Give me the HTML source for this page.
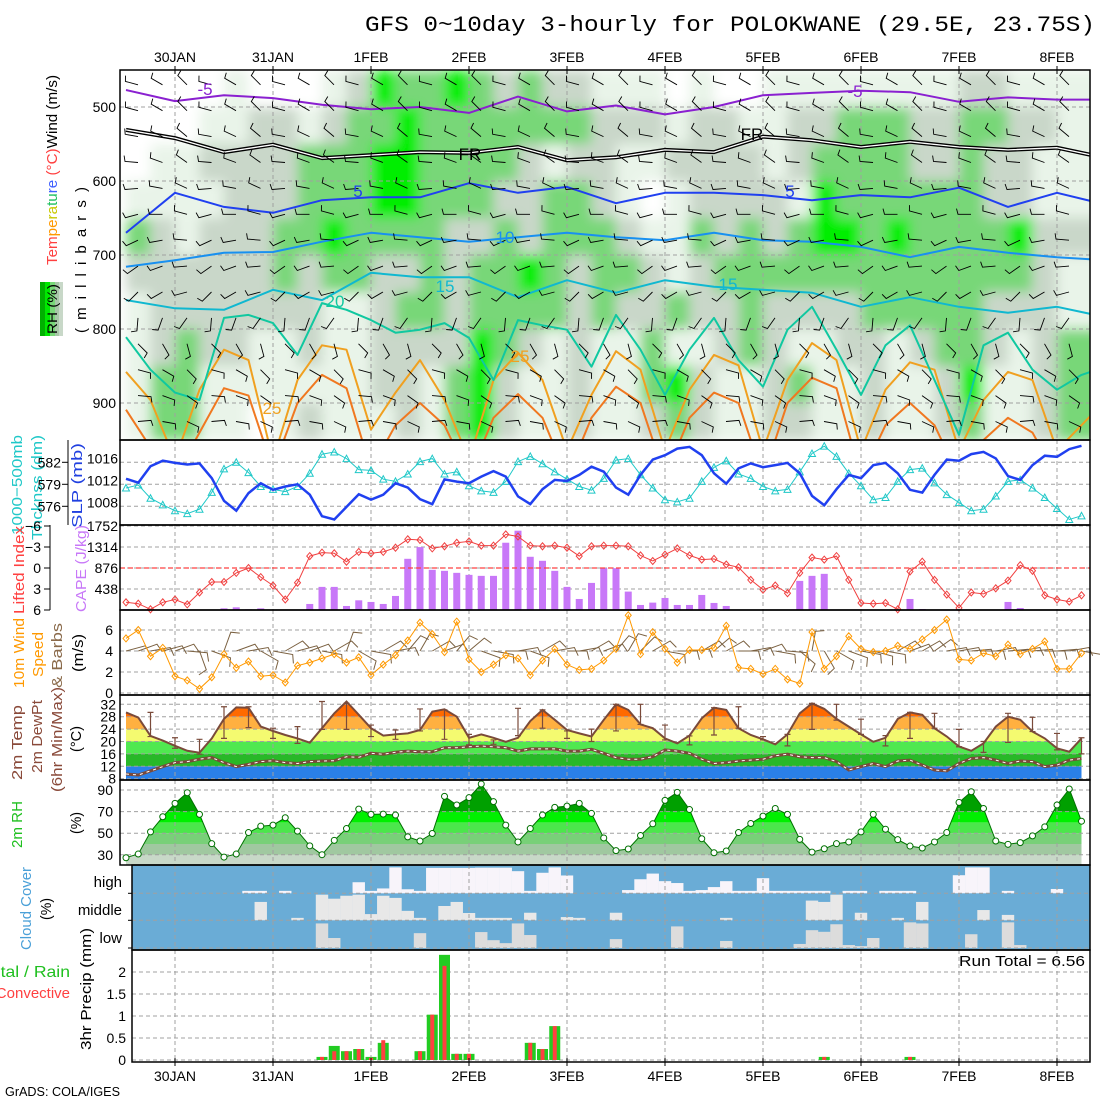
<!DOCTYPE html>
<html><head><meta charset="utf-8"><title>GFS meteogram POLOKWANE</title>
<style>
html,body{margin:0;padding:0;background:#fff;}
svg{display:block;font-family:"Liberation Sans",sans-serif;}
</style></head>
<body>
<svg id="chart" width="1100" height="1100" viewBox="0 0 1100 1100" xmlns="http://www.w3.org/2000/svg">
<defs>
  <clipPath id="clipP1"><rect x="120" y="70" width="970" height="370"/></clipPath>
  <clipPath id="clipP2"><rect x="120" y="440" width="970" height="85"/></clipPath>
  <clipPath id="clipP5"><rect x="120" y="695" width="970" height="85"/></clipPath>
  <clipPath id="clipP6"><rect x="120" y="780" width="970" height="85"/></clipPath>
  <clipPath id="clipP7"><rect x="132" y="865" width="958" height="85"/></clipPath>
  <filter id="soft" x="-5%" y="-5%" width="110%" height="110%"><feGaussianBlur stdDeviation="6"/></filter>
</defs>

<text x="365" y="31" font-family="Liberation Mono, monospace" font-size="22" textLength="730" lengthAdjust="spacingAndGlyphs">GFS 0~10day 3-hourly for POLOKWANE (29.5E, 23.75S)</text>

<text transform="translate(57,265) rotate(-90)" font-size="15" textLength="190" lengthAdjust="spacingAndGlyphs"><tspan fill="#ff4040">Tem</tspan><tspan fill="#ff9900">pe</tspan><tspan fill="#c8c800">ra</tspan><tspan fill="#20c060">tu</tspan><tspan fill="#4060ff">re</tspan><tspan fill="#ff4040"> (°C)</tspan><tspan fill="#000">Wind (m/s)</tspan></text>
<text transform="translate(86,333) rotate(-90)" font-size="15" textLength="146" lengthAdjust="spacing">(millibars)</text>
<g>
  <rect x="40" y="282" width="5" height="54" fill="#00b000"/>
  <rect x="45" y="282" width="5" height="54" fill="#00e800"/>
  <rect x="50" y="282" width="5" height="54" fill="#78d878"/>
  <rect x="55" y="282" width="4" height="54" fill="#a8c8a8"/>
  <rect x="59" y="282" width="4" height="54" fill="#c8d8c8"/>
  <text transform="translate(57,334) rotate(-90)" font-size="14" textLength="50" lengthAdjust="spacingAndGlyphs">RH (%)</text>
</g>
<text transform="translate(22,535) rotate(-90)" font-size="15" fill="#20c8c8" textLength="100" lengthAdjust="spacingAndGlyphs">1000−500mb</text>
<text transform="translate(42,540) rotate(-90)" font-size="15" fill="#20c8c8" textLength="105" lengthAdjust="spacingAndGlyphs">Thcknss (dm)</text>
<text transform="translate(82,528) rotate(-90)" font-size="15" fill="#2040e0" textLength="85" lengthAdjust="spacingAndGlyphs">SLP (mb)</text>
<text transform="translate(24,614) rotate(-90)" font-size="15" fill="#ff4040" textLength="88" lengthAdjust="spacingAndGlyphs">Lifted Index</text>
<text transform="translate(86,612) rotate(-90)" font-size="15" fill="#c878f8" textLength="87" lengthAdjust="spacingAndGlyphs">CAPE (J/kg)</text>
<text transform="translate(24,688) rotate(-90)" font-size="15" fill="#ff9900" textLength="70" lengthAdjust="spacingAndGlyphs">10m Wind</text>
<text transform="translate(43,677) rotate(-90)" font-size="15" fill="#ff9900" textLength="45" lengthAdjust="spacingAndGlyphs">Speed</text>
<text transform="translate(62,688) rotate(-90)" font-size="15" fill="#8a6a4a" textLength="65" lengthAdjust="spacingAndGlyphs">&amp; Barbs</text>
<text transform="translate(83,672) rotate(-90)" font-size="15" textLength="38" lengthAdjust="spacingAndGlyphs">(m/s)</text>
<text transform="translate(22,780) rotate(-90)" font-size="15" fill="#8a4a3a" textLength="75" lengthAdjust="spacingAndGlyphs">2m Temp</text>
<text transform="translate(42,773) rotate(-90)" font-size="15" fill="#8a4a3a" textLength="73" lengthAdjust="spacingAndGlyphs">2m DewPt</text>
<text transform="translate(62,792) rotate(-90)" font-size="15" fill="#8a4a3a" textLength="105" lengthAdjust="spacingAndGlyphs">(6hr Min/Max)</text>
<text transform="translate(81,752) rotate(-90)" font-size="15" textLength="26" lengthAdjust="spacingAndGlyphs">(°C)</text>
<text transform="translate(22,848) rotate(-90)" font-size="15" fill="#20c020" textLength="47" lengthAdjust="spacingAndGlyphs">2m RH</text>
<text transform="translate(81,834) rotate(-90)" font-size="15" textLength="22" lengthAdjust="spacingAndGlyphs">(%)</text>
<text transform="translate(31,950) rotate(-90)" font-size="15" fill="#4aa0d8" textLength="83" lengthAdjust="spacingAndGlyphs">Cloud Cover</text>
<text transform="translate(51,920) rotate(-90)" font-size="15" textLength="22" lengthAdjust="spacingAndGlyphs">(%)</text>
<text x="122" y="887" font-size="15" text-anchor="end">high</text>
<text x="122" y="915" font-size="15" text-anchor="end">middle</text>
<text x="122" y="943" font-size="15" text-anchor="end">low</text>
<text x="-18" y="977" font-size="16" fill="#20c020" textLength="88" lengthAdjust="spacingAndGlyphs">Total / Rain</text>
<text x="70" y="998" font-size="15" fill="#ff4040" text-anchor="end">Convective</text>
<text transform="translate(91,1050) rotate(-90)" font-size="15" textLength="122" lengthAdjust="spacingAndGlyphs">3hr Precip (mm)</text>
<text x="959" y="966" font-size="15" textLength="126" lengthAdjust="spacingAndGlyphs">Run Total = 6.56</text>
<text x="5" y="1096" font-size="13" textLength="115" lengthAdjust="spacingAndGlyphs">GrADS: COLA/IGES</text>

<g id="layer"></g>
</svg>
<script>
const dayLabels=['30JAN','31JAN','1FEB','2FEB','3FEB','4FEB','5FEB','6FEB','7FEB','8FEB'];
const pressTicks=[500,600,700,800,900];
const slpTicks=[1016,1012,1008];
const thickTicks=[582,579,576];
const capeTicks=[1752,1314,876,438];
const liTicks=[-6,-3,0,3,6];
const wsTicks=[6,4,2,0];
const tTicks=[32,28,24,20,16,12,8];
const rhTicks=[90,70,50,30];
const prTicks=[2,1.5,1,0.5,0];
const prTickText=['2','1.5','1','0.5','0'];

const slp=[1013.0,1012.3,1015.3,1016.3,1015.9,1015.6,1015.8,1013.1,1009.0,1007.2,1010.4,1012.2,1011.0,1011.6,1012.0,1010.1,1006.2,1005.6,1007.9,1010.2,1009.2,1010.1,1012.2,1011.4,1009.3,1008.4,1012.9,1012.5,1012.2,1013.4,1014.4,1013.4,1009.8,1008.4,1011.1,1012.8,1012.6,1013.7,1015.2,1014.3,1011.4,1010.1,1013.7,1016.5,1017.3,1018.5,1018.8,1017.3,1014.0,1012.1,1014.9,1015.8,1015.1,1015.5,1015.9,1014.0,1009.9,1008.2,1011.1,1013.7,1013.1,1015.5,1015.9,1014.0,1011.0,1010.5,1013.7,1016.5,1016.3,1017.5,1017.9,1016.7,1013.5,1012.8,1015.5,1017.2,1017.0,1018.4,1019.0];
const thick=[578.5,578.9,577.1,576.2,575.4,575.0,575.6,577.9,581.1,582.0,580.6,578.7,578.3,578.0,578.7,580.5,583.1,583.4,582.5,581.0,580.9,579.7,579.4,580.4,582.1,582.5,580.4,580.7,578.8,578.1,577.9,579.4,582.1,582.8,581.8,580.7,579.7,578.7,578.2,579.8,582.3,582.5,580.3,578.5,576.9,576.6,577.1,579.4,581.3,582.2,580.4,579.8,578.7,578.1,578.3,580.7,583.2,584.2,582.8,580.5,578.8,576.9,577.2,579.4,581.0,581.2,579.2,577.6,576.5,575.4,575.6,577.4,579.4,579.6,578.5,577.2,575.7,574.2,574.7];
const li=[4.9,5.1,5.9,4.9,4.5,5.2,3.5,2.0,2.0,0.7,0.0,1.3,2.5,4.5,2.1,-1.7,-2.2,-2.1,-0.9,-2.3,-2.1,-2.3,-2.9,-4.1,-4.0,-2.8,-3.1,-3.6,-3.8,-3.2,-3.2,-4.8,-4.5,-3.2,-3.1,-3.2,-2.9,-1.7,-3.1,-3.2,-3.2,-3.1,-1.8,-1.0,-1.9,-2.8,-1.8,-1.2,-1.3,-0.5,-0.1,1.7,3.1,2.5,3.6,0.7,-1.5,-1.2,-1.7,1.7,5.0,5.1,5.0,5.9,0.5,-0.9,1.7,3.8,5.7,3.5,3.7,2.9,1.8,-0.4,0.4,3.9,4.5,4.8,3.9];
const cape=[21,0,0,0,0,0,0,0,35,56,14,35,0,0,0,126,482,482,84,202,168,126,293,1068,1312,838,817,775,733,712,712,1403,1654,1110,1026,817,482,230,565,872,872,384,105,154,251,105,105,314,147,84,0,0,0,0,0,607,712,754,0,0,0,0,0,0,230,21,0,0,0,0,0,0,168,42,0,0,0,0,0];
const wspd=[5.2,6.0,3.5,4.3,1.6,1.2,0.4,1.5,3.7,2.4,3.0,1.6,1.7,1.0,2.6,2.9,3.3,3.7,2.9,3.4,1.7,2.7,3.6,5.0,6.7,5.6,3.9,6.8,3.2,2.0,2.7,3.6,3.3,1.7,3.1,4.2,2.7,2.2,2.3,3.1,4.2,7.4,3.7,5.8,4.2,2.9,4.1,4.1,4.3,6.4,2.4,2.3,1.8,2.3,1.3,0.9,5.8,2.3,3.5,5.4,4.2,3.9,4.0,4.5,4.2,5.1,6.0,7.0,3.2,3.1,3.8,3.5,4.6,3.7,4.2,4.9,2.3,2.3,3.8];
const wdir=[75,70,80,75,70,95,160,110,20,70,80,120,100,60,75,70,100,60,20,120,100,60,80,40,30,60,70,40,50,110,100,90,80,110,60,80,90,80,60,70,40,30,45,60,100,90,85,60,50,60,90,80,70,100,95,130,10,150,120,110,100,105,100,60,70,60,55,80,80,85,90,80,85,80,85,90,85,80,100];
const t2m=[29.4,27.7,21.8,20.3,18.6,17.0,16.4,21.0,27.3,31.0,30.9,24.8,23.4,22.1,21.0,19.6,24.3,29.1,32.9,28.6,24.3,21.9,22.3,22.6,23.7,29.6,30.4,28.0,21.2,22.3,21.2,19.9,21.2,26.6,30.2,27.0,23.7,22.6,21.6,27.0,32.0,30.2,25.5,24.3,21.0,19.4,21.9,27.5,30.9,30.2,24.3,22.1,20.7,19.1,22.3,29.1,32.3,30.5,27.3,24.8,22.3,19.9,21.2,27.3,29.4,28.6,24.3,21.6,18.4,17.0,19.4,24.8,28.0,27.0,23.2,21.0,17.8,16.7,21.0];
const td2m=[9.5,9.2,10.5,11.9,13.2,13.5,14.3,14.8,13.2,11.9,12.6,13.5,13.8,13.2,12.9,13.5,13.7,13.8,15.1,14.9,16.2,15.9,16.5,16.9,16.7,16.7,18.0,18.0,18.3,18.5,18.3,18.0,16.9,17.6,17.6,17.6,16.9,16.9,17.5,16.2,14.8,14.3,14.3,15.1,17.3,16.9,16.2,14.3,12.9,13.2,13.7,14.0,14.3,15.4,15.9,15.1,14.8,14.8,13.5,10.8,11.9,12.9,11.9,13.7,14.0,12.4,10.8,10.5,12.9,14.5,14.8,14.0,12.9,13.7,13.5,11.9,12.4,14.0,14.5];
const tmax6=[29.4,21.2,20.7,31.2,31.2,24.3,24.8,32.9,32.3,25.3,23.7,30.5,30.2,22.3,20.5,30.7,30.2,23.4,24.0,32.0,32.0,25.3,21.8,30.9,31.2,21.6,22.3,32.3,32.0,27.2,21.9,29.4,29.1,23.9,20.0,29.1,27.8,22.6,21.2];
const tmin6=[21.6,17.8,15.9,21.0,24.5,21.0,19.4,23.9,23.9,21.6,20.7,23.4,20.7,18.9,19.1,21.9,24.3,21.0,20.0,23.4,25.5,20.5,18.9,22.1,24.3,20.5,18.6,23.9,26.9,22.3,18.6,21.0,24.3,18.3,16.5,19.7,23.2,17.3,16.0];
const rh2m=[27.3,30.7,51.2,65.2,77.6,87.5,67.4,40.3,27.9,30.7,50.6,56.5,57.5,64.3,51.9,38.3,30.1,43.4,54.3,72.3,67.4,67.7,66.8,46.6,42.8,49.7,84.1,76.1,82.9,95.6,79.2,57.5,41.9,54.3,66.8,73.9,75.1,77.6,68.3,45.6,33.9,35.4,47.9,58.7,80.4,87.8,71.9,44.9,31.9,33.5,50.6,59.0,65.8,72.9,67.4,44.3,32.5,35.6,40.3,41.9,51.2,67.4,53.7,44.0,38.1,36.3,41.9,50.6,78.5,88.4,72.9,42.8,39.7,41.3,47.5,55.9,76.1,90.9,61.1];
const cloudHigh=[0,0,0,0,0,0,0,0,0,0,9,9,0,9,0,0,0,0,0,41,9,18,96,15,9,94,94,94,94,95,95,95,82,9,76,96,66,0,0,0,0,12,52,73,45,38,9,12,23,45,9,9,56,9,9,9,9,9,0,9,9,0,9,9,9,0,0,0,67,96,96,0,9,0,0,0,16,0,0];
const cloudMid=[0,0,0,0,0,0,0,0,0,0,0,68,0,0,9,0,95,80,91,95,23,91,83,35,9,0,53,68,27,9,9,9,0,28,0,0,12,9,0,0,28,0,0,0,0,0,0,0,0,9,0,0,0,0,0,0,73,68,95,0,28,0,0,9,0,68,0,0,0,0,38,0,20,0,0,0,0,0,0];
const cloudLow=[0,0,0,0,0,0,0,0,0,0,0,0,0,0,0,0,91,37,0,0,0,0,0,0,55,0,0,0,0,59,29,18,91,48,0,0,0,0,0,0,33,0,0,0,0,80,0,0,0,26,0,0,0,0,0,15,66,60,88,11,7,37,0,0,95,91,0,0,0,51,0,0,95,11,0,0,0,0,0];
const precipTotal=[0,0,0,0,0,0,0,0,0,0,0,0,0,0,0,0,0.07,0.32,0.20,0.25,0.07,0.39,0,0,0.20,1.03,2.39,0.14,0.14,0,0,0,0,0.39,0.25,0.77,0,0,0,0,0,0,0,0,0,0,0,0,0,0,0,0,0,0,0,0,0,0.07,0,0,0,0,0,0,0.07,0,0,0,0,0,0,0,0,0,0,0,0,0,0];
const precipConv=[0,0,0,0,0,0,0,0,0,0,0,0,0,0,0,0,0.07,0.20,0.20,0.25,0.05,0.45,0,0,0.20,1.03,2.14,0.14,0.14,0,0,0,0,0.39,0.25,0.77,0,0,0,0,0,0,0,0,0,0,0,0,0,0,0,0,0,0,0,0,0,0.07,0,0,0,0,0,0,0.07,0,0,0,0,0,0,0,0,0,0,0,0,0,0];
const rhLevels=[450,500,550,600,650,700,750,800,850,900];
const rhRows=[
"0000100012433432322111010011111111221111",
"0001122123343333333222122112233322332211",
"0112222333443333212211222212333322322111",
"1111222333443332233210122221433333322111",
"3212223343333223233321132323443433334222",
"2222223233223233432332123333333333333211",
"1222222211233233332322322322223333322211",
"1232211211222243212113112321122123321233",
"1331111111221342112113421123112112411233",
"1331101211121342112112321122112112311233"];
const isoM5=[477,492,484,488,497,503,500,508,486,506,498,510,500,484,481,478,480,493,487,490,490];
const isoFR=[531,542,561,551,569,565,561,562,554,572,568,558,561,540,545,554,547,554,558,555,569];
const iso5=[670,616,635,643,626,622,622,603,616,608,630,616,616,619,626,619,622,609,635,616,632];
const iso10=[716,707,697,696,682,670,676,682,676,670,676,680,670,680,682,689,703,689,697,703,707];
const iso15=[761,772,774,747,761,724,730,730,757,734,751,734,743,747,751,770,757,770,778,770,784];
const iso20=[811,855,886,896,785,781,792,835,765,774,788,805,801,792,812,869,788,795,801,851,781,828,889,828,785,842,878,801,770,828,889,822,795,869,943,822,805,855,882,862,851];
const iso25=[858,896,977,882,828,842,977,869,822,828,936,886,842,896,977,869,832,869,964,889,830,855,964,882,835,849,964,869,819,842,964,882,845,855,964,896,858,869,964,930,896];
const iso30=[909,960,1000,940,880,890,990,900,862,880,990,930,900,930,1000,920,888,920,1000,920,878,900,1000,920,886,900,1000,900,866,880,1000,930,900,930,1000,950,920,940,1000,990,960];
const barbLevels=[470,505,540,575,610,645,680,715,750,785,820,855,890,925];
const barbLevelDirs=[300,300,295,290,280,270,260,250,240,200,150,120,110,100];

const NS='http://www.w3.org/2000/svg';
const root=document.getElementById('layer');
function mk(tag,attrs,parent){const e=document.createElementNS(NS,tag);for(const k in attrs)e.setAttribute(k,attrs[k]);(parent||root).appendChild(e);return e;}
const X=i=>126+12.25*i;
const Yp=p=>70+(p-450)*0.74;
const Yslp=v=>462.3-(v-1016)*5.5;
const Ythk=v=>462.3-(v-582)*22/3;
const Ycape=v=>610-v*84/1752;
const Yli=v=>568+v*7;
const Yws=v=>693-v*10.5;
const Yt=v=>704.3+(32-v)*3.1;
const Yrh=v=>790+(90-v)*1.08;
const Ypr=v=>1060-v*44;
const dayX=k=>X(4+8*k);
const GRID='#a0a0a0';
function pts(arr,fx,fy){return arr.map((v,i)=>fx(i).toFixed(1)+','+fy(v).toFixed(1)).join(' ');}
function group(name,attrs){const g=mk('g',attrs||{});


return g;}
function hgrid(g,ys,x0,x1){ys.forEach(y=>{const l=mk('line',{x1:x0,x2:x1,y1:y,y2:y,stroke:GRID,'stroke-dasharray':'4,3'},g);

});}
function vgrid(g,y0,y1){for(let k=0;k<dayLabels.length;k++){const l=mk('line',{x1:dayX(k),x2:dayX(k),y1:y0,y2:y1,stroke:GRID,'stroke-dasharray':'4,3'},g);

}}
function label(g,txt,x,y,name,anchor){const t=mk('text',{x:x,y:y,'font-size':14,'text-anchor':anchor||'end'},g);t.textContent=txt;


return t;}
function barb(g,x,y,dir,L,color,w){const a=dir*Math.PI/180;const ex=x+Math.sin(a)*L,ey=y-Math.cos(a)*L;const fa=a+Math.PI*0.42;const fx=ex+Math.sin(fa)*L*0.45,fy=ey-Math.cos(fa)*L*0.45;
const p=mk('path',{d:`M${x.toFixed(1)},${y.toFixed(1)}L${ex.toFixed(1)},${ey.toFixed(1)}L${fx.toFixed(1)},${fy.toFixed(1)}`,stroke:color,'stroke-width':w,fill:'none'},g);

}

// panel 1
const p1=group('cross-section-panel',{'clip-path':'url(#clipP1)'});
const rhCol=['#ffffff','#e9f4e9','#c9d7c9','#78d778','#00ee00'];
const rhG=group('rh-field',{filter:'url(#soft)'});p1.appendChild(rhG);
rhRows.forEach((row,r)=>{for(let c=0;c<row.length;c++){const rc=mk('rect',{x:126+24.5*c,y:Yp(rhLevels[r]),width:25,height:37.5,fill:rhCol[+row[c]]},rhG);

}});
hgrid(p1,pressTicks.map(Yp),120,1090);vgrid(p1,70,440);
function iso(arr,step,color,w,name){const pl=mk('polyline',{points:pts(arr,i=>126+step*i,Yp),fill:'none',stroke:color,'stroke-width':w,'stroke-linejoin':'round'},p1);

}
iso(iso30,24.5,'#f07820',2,'isotherm-30');
iso(iso25,24.5,'#f0a020',2,'isotherm-25');
iso(iso20,24.5,'#10c8a0',2,'isotherm-20');
iso(iso15,49,'#10b8d0',2,'isotherm-15');
iso(iso10,49,'#1890f0',2,'isotherm-10');
iso(iso5,49,'#2040f0',2,'isotherm-5');
iso(isoFR,49,'#000',4,'freezing-level');
iso(isoFR,49,'#fff',1.3,'freezing-level-inner');
iso(isoM5,49,'#8a20d0',2,'isotherm-minus5');
const bG=group('cross-section-barbs');p1.appendChild(bG);
barbLevels.forEach((p,r)=>{for(let k=0;k<39;k++){barb(bG,138+24.5*k,Yp(p),barbLevelDirs[r]+((k%3)-1)*15,13,'#000',0.9);}});
[['-5',205,95,'#8a20d0'],['-5',855,97,'#8a20d0'],['FR',470,160,'#000'],['FR',752,140,'#000'],['5',358,197,'#2040f0'],['5',790,197,'#2040f0'],['10',505,243,'#1890f0'],['15',445,292,'#10b8d0'],['15',728,290,'#10b8d0'],['20',335,307,'#10c8a0'],['25',272,414,'#f0a020'],['25',520,362,'#f0a020']].forEach(d=>{
const t=mk('text',{x:d[1],y:d[2],'font-size':17,fill:d[3],'text-anchor':'middle'},p1);t.textContent=d[0];

});
pressTicks.forEach(p=>label(root,String(p),116,Yp(p)+5,'pressure-tick'));

// panel 2
const p2=group('slp-thickness-panel',{'clip-path':'url(#clipP2)'});
hgrid(p2,slpTicks.map(Yslp),120,1090);vgrid(p2,440,525);
const thL=mk('polyline',{points:pts(thick,X,Ythk),fill:'none',stroke:'#20c8c8','stroke-width':1},p2);


thick.forEach((v,i)=>{const x=X(i),y=Ythk(v);const m=mk('path',{d:`M${x-3.5},${y+3}L${x+3.5},${y+3}L${x},${y-3.5}Z`,fill:'none',stroke:'#20c8c8','stroke-width':1},p2);

});
const slpL=mk('polyline',{points:pts(slp,X,Yslp),fill:'none',stroke:'#2040f0','stroke-width':2.5},p2);


slpTicks.forEach(v=>label(root,String(v),118,Yslp(v)+1,'slp-tick'));
label(root,'1752',118,531,'cape-top-tick');
thickTicks.forEach(v=>label(root,String(v),61,Ythk(v)+5,'thickness-tick'));
const thAx=mk('line',{x1:68,x2:68,y1:440,y2:525,stroke:'#000'});


thickTicks.forEach(v=>{const l=mk('line',{x1:62,x2:68,y1:Ythk(v),y2:Ythk(v),stroke:'#000'});

});

// panel 3
const p3=group('cape-li-panel');
hgrid(p3,capeTicks.map(Ycape),120,1090);vgrid(p3,525,610);
cape.forEach((v,i)=>{if(v<=0)return;const x=X(i);const r=mk('rect',{x:x-3.5,y:Ycape(v),width:7,height:610-Ycape(v),fill:'#c878f8'},p3);

});
const zl=mk('line',{x1:120,x2:1090,y1:Yli(0),y2:Yli(0),stroke:'#ff4040','stroke-dasharray':'5,3','stroke-width':1.2},p3);


const liL=mk('polyline',{points:pts(li,X,Yli),fill:'none',stroke:'#f04040','stroke-width':1},p3);


li.forEach((v,i)=>{const x=X(i),y=Yli(v);const m=mk('path',{d:`M${x-3},${y}L${x},${y-3.5}L${x+3},${y}L${x},${y+3.5}Z`,fill:'none',stroke:'#f04040'},p3);

});
capeTicks.slice(1).forEach(v=>label(root,String(v),118,Ycape(v)+5,'cape-tick'));
liTicks.forEach(v=>label(root,v<0?'−'+(-v):String(v),41,Yli(v)+5,'li-tick'));
const liAx=mk('line',{x1:50,x2:50,y1:525,y2:610,stroke:'#000'});


liTicks.forEach(v=>{const l=mk('line',{x1:44,x2:50,y1:Yli(v),y2:Yli(v),stroke:'#000'});

});

// panel 4
const p4=group('wind-panel');
hgrid(p4,wsTicks.map(Yws),120,1090);vgrid(p4,610,695);
wdir.forEach((d,i)=>barb(p4,X(i),Yws(4),d,20,'#7a6040',1));
const wsL=mk('polyline',{points:pts(wspd,X,Yws),fill:'none',stroke:'#ff9900','stroke-width':1},p4);


wspd.forEach((v,i)=>{const x=X(i),y=Yws(v);const m=mk('path',{d:`M${x-3},${y}L${x},${y-3.5}L${x+3},${y}L${x},${y+3.5}Z`,fill:'none',stroke:'#ff9900'},p4);

});
wsTicks.forEach(v=>label(root,String(v),113,Yws(v)+5,'wind-tick'));

// panel 5
const p5=group('temperature-panel',{'clip-path':'url(#clipP5)'});
const tClip=mk('clipPath',{id:'tArea'},document.querySelector('defs'));
mk('polygon',{points:pts(t2m,X,Yt)+` ${X(78)},780 ${X(0)},780`},tClip);
const tBands=group('temperature-bands',{'clip-path':'url(#tArea)'});p5.appendChild(tBands);
[[-50,12,'#2a80e8'],[12,16,'#28b828'],[16,20,'#50e850'],[20,24,'#f4fa70'],[24,28,'#ffb040'],[28,60,'#ff6a00']].forEach(b=>{
const r=mk('rect',{x:120,y:Yt(b[1]),width:970,height:Yt(b[0])-Yt(b[1]),fill:b[2]},tBands);

});
hgrid(p5,tTicks.map(Yt),120,1090);vgrid(p5,695,780);
const tdL=mk('polyline',{points:pts(td2m,X,Yt),fill:'none',stroke:'#7a4a3a','stroke-width':3},p5);


const tdL2=mk('polyline',{points:pts(td2m,X,Yt),fill:'none',stroke:'#fff','stroke-width':1,'stroke-dasharray':'3,4'},p5);


const tL=mk('polyline',{points:pts(t2m,X,Yt),fill:'none',stroke:'#7a4a3a','stroke-width':2},p5);


tmax6.forEach((v,k)=>{const x=X(2+2*k),y1=Yt(v),y2=Yt(tmin6[k]);
const e=mk('path',{d:`M${x},${y1}L${x},${y2}M${x-3},${y1}L${x+3},${y1}M${x-3},${y2}L${x+3},${y2}`,stroke:'#7a4a3a','stroke-width':1.2,fill:'none'},p5);

});
tTicks.forEach(v=>label(root,String(v),116,Yt(v)+5,'temperature-tick'));

// panel 6
const p6=group('rh-panel',{'clip-path':'url(#clipP6)'});
const rClip=mk('clipPath',{id:'rArea'},document.querySelector('defs'));
mk('polygon',{points:pts(rh2m,X,Yrh)+` ${X(78)},865 ${X(0)},865`},rClip);
const rBands=group('rh-bands',{'clip-path':'url(#rArea)'});p6.appendChild(rBands);
[[0,30,'#c8d8c8'],[30,40,'#a0c8a0'],[40,50,'#78d078'],[50,60,'#4ce64c'],[60,70,'#00f000'],[70,120,'#00a000']].forEach(b=>{
const r=mk('rect',{x:120,y:Yrh(b[1]),width:970,height:Yrh(b[0])-Yrh(b[1]),fill:b[2]},rBands);

});
hgrid(p6,rhTicks.map(Yrh),120,1090);vgrid(p6,780,865);
const rhL=mk('polyline',{points:pts(rh2m,X,Yrh),fill:'none',stroke:'#007000','stroke-width':1},p6);


rh2m.forEach((v,i)=>{const c=mk('circle',{cx:X(i),cy:Yrh(v),r:3,fill:'#fff',stroke:'#007000'},p6);

});
rhTicks.forEach(v=>label(root,String(v),113,Yrh(v)+5,'rh-tick'));

// panel 7
const p7=group('cloud-panel',{'clip-path':'url(#clipP7)'});
const cbg=mk('rect',{x:132,y:865,width:958,height:85,fill:'#6aacd6'},p7);


[[cloudHigh,893.3,'#f8f4fa','cloud-high-bar'],[cloudMid,920.3,'#e8e8e8','cloud-mid-bar'],[cloudLow,948,'#dcdcdc','cloud-low-bar']].forEach(s=>{
s[0].forEach((v,i)=>{if(v<=0)return;const h=v*0.27;const r=mk('rect',{x:X(i)-6.2,y:s[1]-h,width:12.4,height:h,fill:s[2]},p7);

});});
hgrid(p7,[893.3,920.3,948],132,1090);vgrid(p7,865,950);
[893.3,920.3,948].forEach(y=>{const l=mk('line',{x1:128,x2:132,y1:y,y2:y,stroke:'#000'});

});

// panel 8
const p8=group('precip-panel');
hgrid(p8,prTicks.map(Ypr),132,1090);vgrid(p8,950,1062);
precipTotal.forEach((v,i)=>{if(v<=0)return;const r=mk('rect',{x:X(i)-5.5,y:Ypr(v),width:11,height:1060-Ypr(v),fill:'#22cc22'},p8);

});
precipConv.forEach((v,i)=>{if(v<=0)return;const r=mk('rect',{x:X(i)-2,y:Ypr(v),width:4,height:1060-Ypr(v),fill:'#ff4040'},p8);

});
prTicks.forEach((v,k)=>label(root,prTickText[k],126,Ypr(v)+5,'precip-tick'));

// frames & dates
const fr=group('panel-frames');
[[120,70,970,370],[120,440,970,85],[120,525,970,85],[120,610,970,85],[120,695,970,85],[120,780,970,85],[132,865,958,85],[132,950,958,112]].forEach(b=>{
const r=mk('rect',{x:b[0],y:b[1],width:b[2],height:b[3],fill:'none',stroke:'#000','stroke-width':1.5},fr);

});
dayLabels.forEach((d,k)=>{const x=dayX(k);
const t1=mk('text',{x:x,y:62,'font-size':14,'text-anchor':'middle'});t1.textContent=d;


const t2=mk('text',{x:x,y:1081,'font-size':14,'text-anchor':'middle'});t2.textContent=d;


const m1=mk('line',{x1:x,x2:x,y1:66,y2:74,stroke:'#000'});


const m2=mk('line',{x1:x,x2:x,y1:1058,y2:1066,stroke:'#000'});

});
</script>
</body></html>
